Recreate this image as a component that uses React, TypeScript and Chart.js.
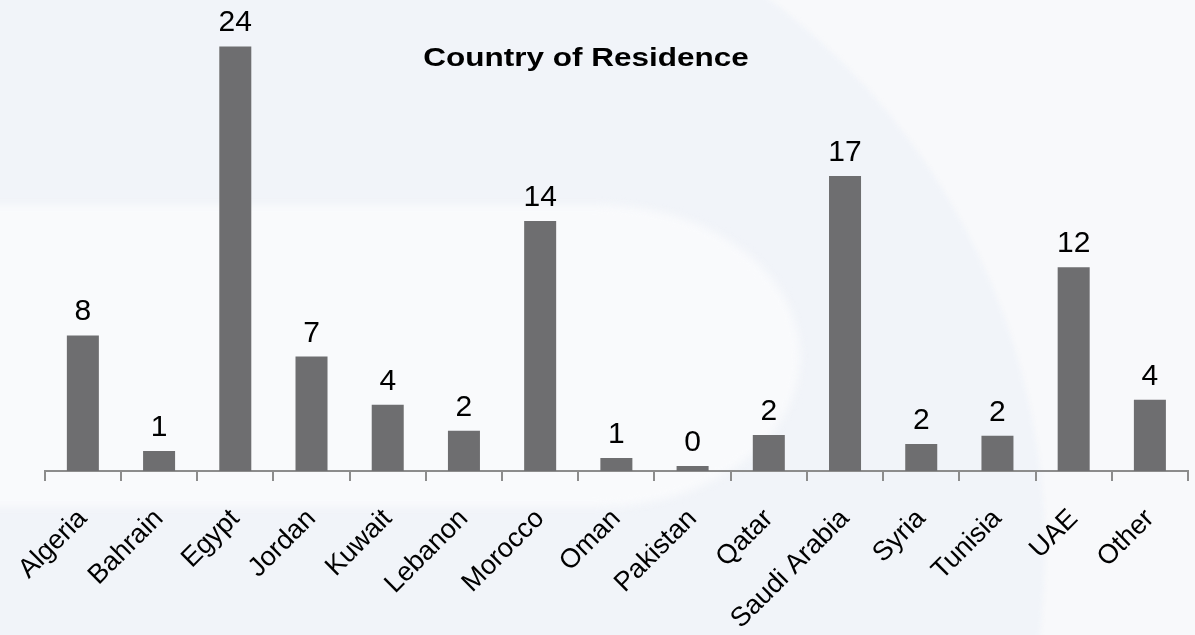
import React, { useEffect, useRef } from "react";
import { Chart, registerables } from "chart.js";

Chart.register(...registerables);

const chartTitle = "Country of Residence";

const categories = [
  "Algeria",
  "Bahrain",
  "Egypt",
  "Jordan",
  "Kuwait",
  "Lebanon",
  "Morocco",
  "Oman",
  "Pakistan",
  "Qatar",
  "Saudi Arabia",
  "Syria",
  "Tunisia",
  "UAE",
  "Other",
];

// bar heights
const values = [7.66, 1.13, 24.0, 6.47, 3.74, 2.27, 14.13, 0.74, 0.28, 2.04, 16.68, 1.53, 1.99, 11.52, 4.03];

// numbers printed above the bars
const valueLabels = ["8", "1", "24", "7", "4", "2", "14", "1", "0", "2", "17", "2", "2", "12", "4"];

const FONT = "'Liberation Sans', Arial, Helvetica, sans-serif";

const backgroundPlugin = {
  id: "bgSwoosh",
  beforeDraw(chart: any) {
    const { ctx, width, height } = chart;
    ctx.save();
    // base light colour
    ctx.fillStyle = "#f8f9fb";
    ctx.fillRect(0, 0, width, height);
    // big circle (slightly darker, bluish)
    ctx.filter = "blur(2px)";
    ctx.fillStyle = "#f1f4f9";
    ctx.beginPath();
    ctx.arc(357, 550, 688, 0, Math.PI * 2);
    ctx.fill();
    // lighter band in the lower left
    ctx.filter = "blur(5px)";
    ctx.fillStyle = "#f9fafc";
    ctx.beginPath();
    ctx.moveTo(-20, 205);
    ctx.lineTo(600, 205);
    ctx.ellipse(600, 356, 200, 151, 0, -Math.PI / 2, Math.PI / 2, false);
    ctx.lineTo(-20, 507);
    ctx.closePath();
    ctx.fill();
    ctx.restore();
  },
};

const labelsPlugin = {
  id: "valueLabels",
  afterDatasetsDraw(chart: any) {
    const { ctx } = chart;
    const meta = chart.getDatasetMeta(0);
    ctx.save();
    ctx.fillStyle = "#000";
    ctx.font = `30px ${FONT}`;
    ctx.textAlign = "center";
    ctx.textBaseline = "alphabetic";
    meta.data.forEach((bar: any, i: number) => {
      ctx.fillText(valueLabels[i], bar.x, bar.y - 15);
    });
    ctx.restore();
  },
  afterDraw(chart: any) {
    const { ctx } = chart;
    ctx.save();
    ctx.fillStyle = "#000";
    ctx.font = `bold 25px ${FONT}`;
    ctx.textAlign = "center";
    ctx.textBaseline = "alphabetic";
    ctx.translate(586, 66);
    ctx.scale(1.26, 1);
    ctx.fillText(chartTitle, 0, 0);
    ctx.restore();
  },
};

export default function App() {
  const ref = useRef<HTMLCanvasElement>(null);

  useEffect(() => {
    if (!ref.current) return;
    const chart = new Chart(ref.current, {
      type: "bar",
      data: {
        labels: categories,
        datasets: [
          {
            data: values,
            backgroundColor: "#6e6e70",
            borderWidth: 0,
            barPercentage: 0.42,
            categoryPercentage: 1,
          },
        ],
      },
      options: {
        animation: false,
        responsive: true,
        maintainAspectRatio: false,
        layout: { padding: { left: 43, right: 7, top: 11, bottom: 0 } },
        plugins: {
          legend: { display: false },
          tooltip: { enabled: false },
          title: { display: false },
        },
        scales: {
          x: {
            offset: true,
            grid: {
              display: true,
              drawOnChartArea: false,
              drawTicks: true,
              tickLength: 10,
              color: "#8c8c8c",
              lineWidth: 2,
              offset: true,
            },
            border: { display: true, color: "#8c8c8c", width: 2 },
            ticks: {
              color: "#000",
              font: { size: 27, family: FONT },
              minRotation: 45,
              maxRotation: 45,
              autoSkip: false,
              padding: 22,
            },
            afterFit: (scale: any) => {
              scale.height = 164;
            },
          },
          y: { display: false, min: 0, max: 26 },
        },
      },
      plugins: [backgroundPlugin, labelsPlugin],
    });
    return () => chart.destroy();
  }, []);

  return (
    <div style={{ position: "fixed", left: 0, top: 0, width: 1195, height: 635 }}>
      <canvas ref={ref} />
    </div>
  );
}
